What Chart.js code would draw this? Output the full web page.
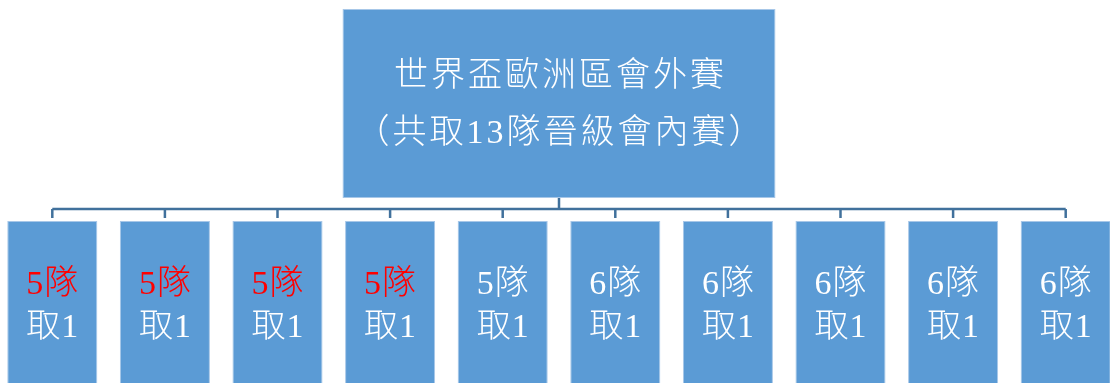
<!DOCTYPE html>
<html><head><meta charset="utf-8">
<script src="https://cdn.jsdelivr.net/npm/chart.js@4"></script>
<style>
html,body{margin:0;padding:0;background:#fff;overflow:hidden;width:1110px;height:383px;position:relative}
#wrap{position:absolute;left:-4px;top:0;width:1126px;height:383px}
</style></head><body>
<div id="wrap"><canvas id="c" width="1126" height="383"></canvas></div>
<script>
// ---- data ----
const groups = ['第1組','第2組','第3組','第4組','第5組','第6組','第7組','第8組','第9組','第10組'];
const teamCounts = [5,5,5,5,5,6,6,6,6,6];
const qualifiers = [1,1,1,1,1,1,1,1,1,1];
const highlighted = [true,true,true,true,false,false,false,false,false,false];
const rootCategory = ['世界盃歐洲區會外賽'];
const titleLines = ['世界盃歐洲區會外賽','（共取13隊晉級會內賽）'];

// ---- layout (not data) ----
const layout = { rootTier:[9,198], childTier:[221,400] };
const FILL = '#5B9BD5', EDGE = '#A7C7E8', LINE = '#41719C';
const FONT = '"Liberation Serif", "Noto Sans CJK TC", serif';

const connectors = {
  id:'connectors',
  beforeDatasetsDraw(chart){
    const ctx = chart.ctx;
    const root = chart.getDatasetMeta(0).data[0];
    const kids = chart.getDatasetMeta(1).data;
    const rootBottom = Math.max(root.y, root.base);
    const kidTop = Math.min(kids[0].y, kids[0].base);
    const bus = Math.round((rootBottom + kidTop)/2) - 1;
    ctx.save();
    ctx.strokeStyle = LINE; ctx.lineWidth = 2.5;
    ctx.beginPath();
    ctx.moveTo(root.x, rootBottom); ctx.lineTo(root.x, bus);
    ctx.moveTo(kids[0].x, bus); ctx.lineTo(kids[kids.length-1].x, bus);
    kids.forEach(k=>{ ctx.moveTo(k.x, bus); ctx.lineTo(k.x, kidTop-3); });
    ctx.stroke();
    ctx.restore();
  }
};

function spaced(ctx, text, x, y, ls){
  ctx.letterSpacing = ls + 'px';
  ctx.fillText(text, x + ls/2, y);
}

const labels = {
  id:'labels',
  afterDatasetsDraw(chart){
    const ctx = chart.ctx;
    ctx.save();
    ctx.textAlign = 'center'; ctx.textBaseline = 'middle';
    const root = chart.getDatasetMeta(0).data[0];
    const rTop = Math.min(root.y, root.base), rBot = Math.max(root.y, root.base);
    const rc = (rTop + rBot)/2;
    ctx.font = '300 34px ' + FONT;
    ctx.fillStyle = '#ffffff';
    spaced(ctx, titleLines[0], root.x, rc - 26, 3);
    spaced(ctx, titleLines[1], root.x, rc + 31, 3);
    const kids = chart.getDatasetMeta(1).data;
    kids.forEach((k,i)=>{
      const top = Math.min(k.y, k.base);
      ctx.fillStyle = highlighted[i] ? '#FF0000' : '#ffffff';
      spaced(ctx, teamCounts[i] + '隊', k.x, top + 64, 1);
      ctx.fillStyle = '#ffffff';
      spaced(ctx, '取' + qualifiers[i], k.x, top + 107, 1);
    });
    ctx.restore();
  }
};

new Chart(document.getElementById('c'), {
  type:'bar',
  data:{
    labels: groups,
    datasets:[
      { label:'root', xAxisID:'xRoot', yAxisID:'y', data: rootCategory.map(()=>layout.rootTier),
        backgroundColor:FILL, borderColor:EDGE, borderWidth:1, borderSkipped:false,
        categoryPercentage:1, barPercentage:433/1126, grouped:false },
      { label:'groups', xAxisID:'x', yAxisID:'y', data: groups.map(()=>layout.childTier),
        backgroundColor:FILL, borderColor:EDGE, borderWidth:1, borderSkipped:false,
        categoryPercentage:0.8, barPercentage:1, grouped:false }
    ]
  },
  options:{
    responsive:false, animation:false, devicePixelRatio:1,
    layout:{padding:0},
    plugins:{legend:{display:false}, tooltip:{enabled:false}},
    scales:{
      x:{type:'category', labels:groups, display:false, offset:true},
      xRoot:{type:'category', labels:rootCategory, display:false, offset:true},
      y:{type:'linear', min:0, max:383, reverse:true, display:false}
    }
  },
  plugins:[connectors, labels]
});
</script>
</body></html>
